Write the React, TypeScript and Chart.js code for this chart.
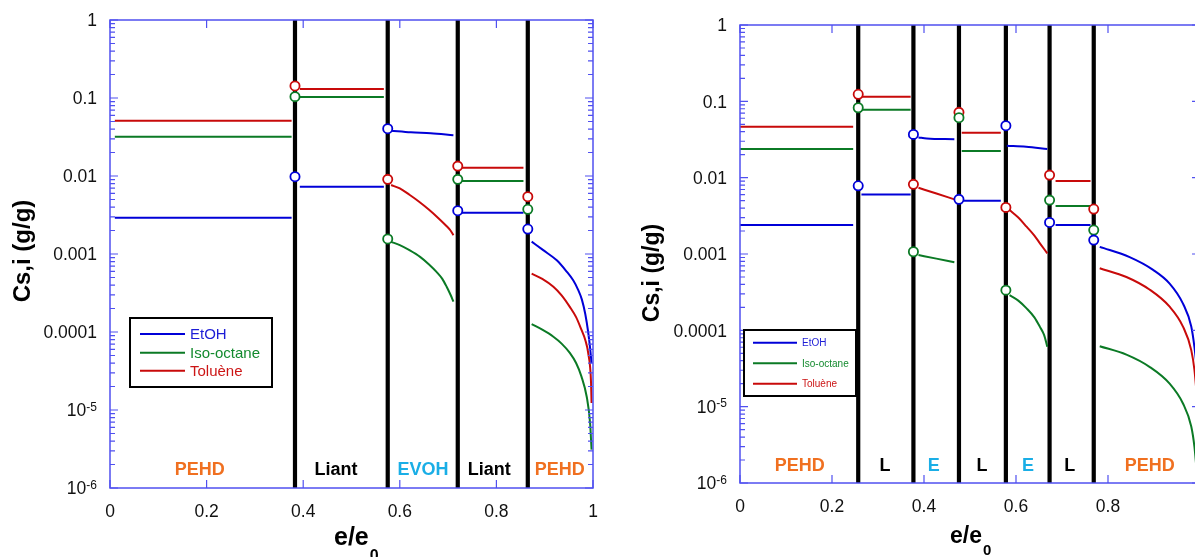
import React, { useEffect, useRef } from "react";
import { Chart, registerables } from "chart.js";

Chart.register(...registerables);

const FONT = '"Liberation Sans", Arial, Helvetica, sans-serif';
const AXIS_COLOR = "#5050f0";

const SPECIES = ["EtOH", "Iso-octane", "Toluène"];
const LINE_COLORS = ["#0000d8", "#0b7a25", "#c80a0a"];
const LEGEND_TEXT_COLORS = ["#1d1dd6", "#138a2e", "#cc1515"];

const Y_MIN = 1e-6;
const Y_MAX = 1;
const Y_TICKS = [1, 0.1, 0.01, 0.001, 0.0001, 1e-5, 1e-6];
const Y_TICK_LABELS = ["1", "0.1", "0.01", "0.001", "0.0001", "10|-5", "10|-6"];
const X_TICKS = [0, 0.2, 0.4, 0.6, 0.8, 1];
const X_TICK_LABELS = ["0", "0.2", "0.4", "0.6", "0.8", "1"];

// ---------- Left panel ----------
const L_INTERFACES = [0.383, 0.575, 0.72, 0.865];
const L_LAYERS = ["PEHD", "Liant", "EVOH", "Liant", "PEHD"];
const L_LAYER_X = [0.186, 0.468, 0.648, 0.785, 0.931];
const L_LAYER_COLORS = ["#f07020", "#000000", "#1aaee6", "#000000", "#f07020"];

const L_ETOH_X = [0.01, 0.376, null, 0.393, 0.567, null, 0.582, 0.623, 0.664, 0.711, null, 0.728, 0.856, null,
  0.873, 0.897, 0.925, 0.945, 0.959, 0.969, 0.977, 0.984, 0.99, 0.994, 0.997];
const L_ETOH_Y = [0.00292, 0.00292, null, 0.0073, 0.0073, null, 0.0381, 0.0363, 0.0352, 0.0333, null, 0.00339, 0.00339, null,
  0.00144, 0.00112, 0.00083, 0.0006, 0.00046, 0.00035, 0.00026, 0.00017, 0.0001, 0.000062, 0.00004];

const L_ISO_X = [0.01, 0.376, null, 0.393, 0.567, null, 0.582, 0.6, 0.62, 0.642, 0.66, 0.676, 0.688, 0.697, 0.705, 0.711, null,
  0.728, 0.856, null, 0.873, 0.895, 0.918, 0.935, 0.952, 0.965, 0.976, 0.987, 0.994, 0.997];
const L_ISO_Y = [0.0319, 0.0319, null, 0.103, 0.103, null, 0.00143, 0.0013, 0.00112, 0.00092, 0.00074, 0.00059, 0.00048, 0.00038, 0.0003, 0.000245, null,
  0.00863, 0.00863, null, 0.000126, 0.000107, 0.000087, 0.000071, 0.000054, 0.00004, 0.000027, 0.0000148, 0.0000068, 0.0000031];

const L_TOL_X = [0.01, 0.376, null, 0.393, 0.567, null, 0.582, 0.6, 0.62, 0.64, 0.66, 0.68, 0.695, 0.705, 0.711, null,
  0.728, 0.856, null, 0.873, 0.895, 0.918, 0.935, 0.952, 0.965, 0.976, 0.984, 0.99, 0.996, 0.997];
const L_TOL_Y = [0.0512, 0.0512, null, 0.13, 0.13, null, 0.00767, 0.00692, 0.00575, 0.00468, 0.00372, 0.00288, 0.00234, 0.002, 0.00174, null,
  0.0128, 0.0128, null, 0.00056, 0.00048, 0.00038, 0.000295, 0.00021, 0.000155, 0.000107, 0.000079, 0.000054, 0.000022, 0.0000123];

const L_ETOH_MARK = [0.0098, 0.0404, 0.00359, 0.00209];
const L_ISO_MARK = [0.104, 0.00156, 0.00906, 0.00374];
const L_TOL_MARK = [0.1426, 0.00906, 0.0134, 0.00543];

// ---------- Right panel ----------
const R_INTERFACES = [0.257, 0.377, 0.476, 0.578, 0.673, 0.769];
const R_LAYERS = ["PEHD", "L", "E", "L", "E", "L", "PEHD"];
const R_LAYER_X = [0.13, 0.315, 0.421, 0.526, 0.626, 0.717, 0.891];
const R_LAYER_COLORS = ["#f07020", "#000000", "#1aaee6", "#000000", "#1aaee6", "#000000", "#f07020"];

const R_ETOH_X = [0.0, 0.246, null, 0.264, 0.371, null, 0.388, 0.406, 0.466, null, 0.485, 0.567, null, 0.58, 0.622, 0.668, null,
  0.686, 0.762, null, 0.782, 0.847, 0.898, 0.934, 0.963, 0.981, 0.988, 0.995];
const R_ETOH_Y = [0.00239, 0.00239, null, 0.00604, 0.00604, null, 0.0337, 0.0327, 0.0318, null, 0.00498, 0.00498, null, 0.0262, 0.0254, 0.0237, null,
  0.00239, 0.00239, null, 0.00124, 0.00091, 0.00062, 0.00041, 0.000224, 0.000112, 0.00006, 0.000025];

const R_ISO_X = [0.0, 0.246, null, 0.264, 0.371, null, 0.388, 0.427, 0.466, null, 0.482, 0.567, null, 0.586, 0.605, 0.623, 0.64, 0.652, 0.661, 0.668, null,
  0.686, 0.762, null, 0.782, 0.84, 0.891, 0.934, 0.963, 0.981, 0.988, 0.995];
const R_ISO_Y = [0.0237, 0.0237, null, 0.0776, 0.0776, null, 0.00097, 0.00087, 0.00078, null, 0.0223, 0.0223, null, 0.000289, 0.000245, 0.000194, 0.000148, 0.000111, 0.000087, 0.000061, null,
  0.00425, 0.00425, null, 0.000062, 0.000048, 0.000033, 0.00002, 0.000011, 0.0000055, 0.00000295, 0.000001];

const R_TOL_X = [0.0, 0.246, null, 0.264, 0.371, null, 0.388, 0.427, 0.466, null, 0.482, 0.567, null, 0.586, 0.605, 0.623, 0.64, 0.652, 0.668, null,
  0.686, 0.762, null, 0.782, 0.84, 0.891, 0.934, 0.963, 0.981, 0.988, 0.995];
const R_TOL_Y = [0.0465, 0.0465, null, 0.115, 0.115, null, 0.00737, 0.0062, 0.0052, null, 0.0388, 0.0388, null, 0.00376, 0.003, 0.00228, 0.00174, 0.00138, 0.00102, null,
  0.00902, 0.00902, null, 0.00065, 0.0005, 0.00034, 0.000204, 0.000112, 0.000055, 0.00003, 0.00001];

const R_ETOH_MARK = [0.00783, 0.0369, 0.0052, 0.0479, 0.00259, 0.00152];
const R_ISO_MARK = [0.0824, 0.00107, 0.061, 0.000336, 0.00508, 0.00206];
const R_TOL_MARK = [0.1236, 0.00817, 0.0717, 0.00408, 0.0108, 0.00388];

type Panel = {
  canvasLeft: number;
  padding: { left: number; top: number; right: number; bottom: number };
  interfaces: number[];
  series: { xs: (number | null)[]; ys: (number | null)[] }[];
  marks: number[][];
  layers: string[];
  layerX: number[];
  layerColors: string[];
  layerOffset: number;
  yTitle: { x: number; y: number; size: number };
  xTitle: { x: number; base: number; size: number; subBase: number; subSize: number };
  legend: { x: number; y: number; w: number; h: number; l0: number; l1: number; tx: number; rows: number[]; font: number };
};

const LEFT: Panel = {
  canvasLeft: 0,
  padding: { left: 110, top: 20, right: 7, bottom: 69 },
  interfaces: L_INTERFACES,
  series: [
    { xs: L_ETOH_X, ys: L_ETOH_Y },
    { xs: L_ISO_X, ys: L_ISO_Y },
    { xs: L_TOL_X, ys: L_TOL_Y },
  ],
  marks: [L_ETOH_MARK, L_ISO_MARK, L_TOL_MARK],
  layers: L_LAYERS,
  layerX: L_LAYER_X,
  layerColors: L_LAYER_COLORS,
  layerOffset: 18,
  yTitle: { x: 23, y: 251, size: 24 },
  xTitle: { x: 334, base: 545, size: 25, subBase: 561, subSize: 16 },
  legend: { x: 130, y: 318, w: 142, h: 69, l0: 140, l1: 185, tx: 190, rows: [334, 352.7, 370.7], font: 15 },
};

const RIGHT: Panel = {
  canvasLeft: 600,
  padding: { left: 140, top: 25, right: 0, bottom: 74 },
  interfaces: R_INTERFACES,
  series: [
    { xs: R_ETOH_X, ys: R_ETOH_Y },
    { xs: R_ISO_X, ys: R_ISO_Y },
    { xs: R_TOL_X, ys: R_TOL_Y },
  ],
  marks: [R_ETOH_MARK, R_ISO_MARK, R_TOL_MARK],
  layers: R_LAYERS,
  layerX: R_LAYER_X,
  layerColors: R_LAYER_COLORS,
  layerOffset: 17,
  yTitle: { x: 53, y: 273, size: 23 },
  xTitle: { x: 350, base: 543, size: 23, subBase: 555, subSize: 15 },
  legend: { x: 144, y: 330, w: 112, h: 66, l0: 153, l1: 197, tx: 202, rows: [342.7, 363.3, 383.7], font: 10 },
};

function makePlugin(p: Panel) {
  return {
    id: "panelDecor",
    afterDatasetsDraw(chart: any) {
      const { ctx, chartArea: a, scales } = chart;
      const xs = scales.x;
      const ys = scales.y;
      ctx.save();
      ctx.strokeStyle = AXIS_COLOR;
      ctx.lineWidth = 1.5;
      ctx.strokeRect(a.left, a.top, a.right - a.left, a.bottom - a.top);
      ctx.lineWidth = 1.2;
      ctx.beginPath();
      for (const v of X_TICKS) {
        const px = xs.getPixelForValue(v);
        ctx.moveTo(px, a.bottom);
        ctx.lineTo(px, a.bottom - 8);
        ctx.moveTo(px, a.top);
        ctx.lineTo(px, a.top + 8);
      }
      for (const v of Y_TICKS) {
        const py = ys.getPixelForValue(v);
        ctx.moveTo(a.left, py);
        ctx.lineTo(a.left + 8, py);
        ctx.moveTo(a.right, py);
        ctx.lineTo(a.right - 8, py);
      }
      for (let d = Y_MIN; d < Y_MAX * 0.99; d *= 10) {
        for (let k = 2; k <= 9; k++) {
          const py = ys.getPixelForValue(k * d);
          ctx.moveTo(a.left, py);
          ctx.lineTo(a.left + 5, py);
          ctx.moveTo(a.right, py);
          ctx.lineTo(a.right - 5, py);
        }
      }
      ctx.stroke();
      ctx.restore();
    },
    afterDraw(chart: any) {
      const { ctx, chartArea: a, scales } = chart;
      const xs = scales.x;
      const ys = scales.y;
      ctx.save();
      // x tick labels
      ctx.fillStyle = "#111";
      ctx.font = `17.5px ${FONT}`;
      ctx.textAlign = "center";
      ctx.textBaseline = "alphabetic";
      X_TICKS.forEach((v, i) => {
        ctx.fillText(X_TICK_LABELS[i], xs.getPixelForValue(v), a.bottom + 29);
      });
      // y tick labels
      Y_TICKS.forEach((v, i) => {
        const py = ys.getPixelForValue(v);
        const lab = Y_TICK_LABELS[i];
        const right = a.left - 13;
        ctx.textAlign = "right";
        if (lab.includes("|")) {
          const [base, exp] = lab.split("|");
          ctx.font = `12px ${FONT}`;
          const ew = ctx.measureText(exp).width;
          ctx.fillText(exp, right, py + 0.5);
          ctx.font = `17.5px ${FONT}`;
          ctx.fillText(base, right - ew, py + 6.3);
        } else {
          ctx.font = `17.5px ${FONT}`;
          ctx.fillText(lab, right, py + 6.3);
        }
      });
      // y title
      ctx.save();
      ctx.translate(p.yTitle.x, p.yTitle.y);
      ctx.rotate(-Math.PI / 2);
      ctx.font = `bold ${p.yTitle.size}px ${FONT}`;
      ctx.textAlign = "center";
      ctx.textBaseline = "middle";
      ctx.fillStyle = "#000";
      ctx.fillText("Cs,i (g/g)", 0, 0);
      ctx.restore();
      // x title with subscript
      ctx.fillStyle = "#000";
      ctx.textAlign = "left";
      ctx.textBaseline = "alphabetic";
      ctx.font = `bold ${p.xTitle.size}px ${FONT}`;
      const tw = ctx.measureText("e/e").width;
      ctx.fillText("e/e", p.xTitle.x, p.xTitle.base);
      ctx.font = `bold ${p.xTitle.subSize}px ${FONT}`;
      ctx.fillText("0", p.xTitle.x + tw + 1, p.xTitle.subBase);
      // layer labels
      ctx.font = `bold 18px ${FONT}`;
      ctx.textAlign = "center";
      ctx.textBaseline = "middle";
      p.layers.forEach((name, i) => {
        ctx.fillStyle = p.layerColors[i];
        ctx.fillText(name, xs.getPixelForValue(p.layerX[i]), a.bottom - p.layerOffset);
      });
      // legend
      const L = p.legend;
      ctx.fillStyle = "#fff";
      ctx.fillRect(L.x, L.y, L.w, L.h);
      ctx.strokeStyle = "#000";
      ctx.lineWidth = 2;
      ctx.strokeRect(L.x, L.y, L.w, L.h);
      ctx.font = `${L.font}px ${FONT}`;
      ctx.textAlign = "left";
      ctx.textBaseline = "middle";
      SPECIES.forEach((name, i) => {
        ctx.strokeStyle = LINE_COLORS[i];
        ctx.lineWidth = 2;
        ctx.beginPath();
        ctx.moveTo(L.l0, L.rows[i]);
        ctx.lineTo(L.l1, L.rows[i]);
        ctx.stroke();
        ctx.fillStyle = LEGEND_TEXT_COLORS[i];
        ctx.fillText(name, L.tx, L.rows[i] + 1);
      });
      ctx.restore();
    },
  };
}

function buildDatasets(p: Panel) {
  const ds: any[] = [];
  // markers on top
  p.marks.forEach((vals, si) => {
    ds.push({
      type: "line",
      data: vals.map((v, i) => ({ x: p.interfaces[i], y: v })),
      showLine: false,
      pointRadius: 4.6,
      pointBorderWidth: 1.8,
      pointBackgroundColor: "#ffffff",
      pointBorderColor: LINE_COLORS[si],
      order: 0,
    });
  });
  p.series.forEach((s, si) => {
    ds.push({
      type: "line",
      data: s.xs.map((x, i) => ({ x: x === null ? (s.xs[i - 1] as number) : x, y: s.ys[i] })),
      borderColor: LINE_COLORS[si],
      borderWidth: 2,
      pointRadius: 0,
      cubicInterpolationMode: "monotone",
      spanGaps: false,
      fill: false,
      order: 1,
    });
  });
  p.interfaces.forEach((x) => {
    ds.push({
      type: "line",
      data: [
        { x, y: Y_MIN },
        { x, y: Y_MAX },
      ],
      borderColor: "#000000",
      borderWidth: 4.2,
      borderCapStyle: "butt",
      pointRadius: 0,
      order: 2,
    });
  });
  return ds;
}

function PanelChart({ panel }: { panel: Panel }) {
  const ref = useRef<HTMLCanvasElement | null>(null);
  useEffect(() => {
    if (!ref.current) return;
    const chart = new Chart(ref.current, {
      type: "line",
      data: { datasets: buildDatasets(panel) },
      options: {
        responsive: false,
        maintainAspectRatio: false,
        animation: false,
        devicePixelRatio: 1,
        events: [],
        layout: { padding: panel.padding, autoPadding: false },
        plugins: { legend: { display: false }, tooltip: { enabled: false } },
        scales: {
          x: { type: "linear", min: 0, max: 1, display: false },
          y: { type: "logarithmic", min: Y_MIN, max: Y_MAX, display: false },
        },
      },
      plugins: [makePlugin(panel)],
    } as any);
    return () => chart.destroy();
  }, [panel]);
  return (
    <canvas
      ref={ref}
      width={600}
      height={557}
      style={{ position: "absolute", left: panel.canvasLeft, top: 0, width: 600, height: 557, display: "block" }}
    />
  );
}

export default function App() {
  return (
    <div
      style={{
        position: "absolute",
        left: 0,
        top: 0,
        width: 1195,
        height: 557,
        overflow: "hidden",
        background: "#ffffff",
      }}
    >
      <PanelChart panel={LEFT} />
      <PanelChart panel={RIGHT} />
    </div>
  );
}
